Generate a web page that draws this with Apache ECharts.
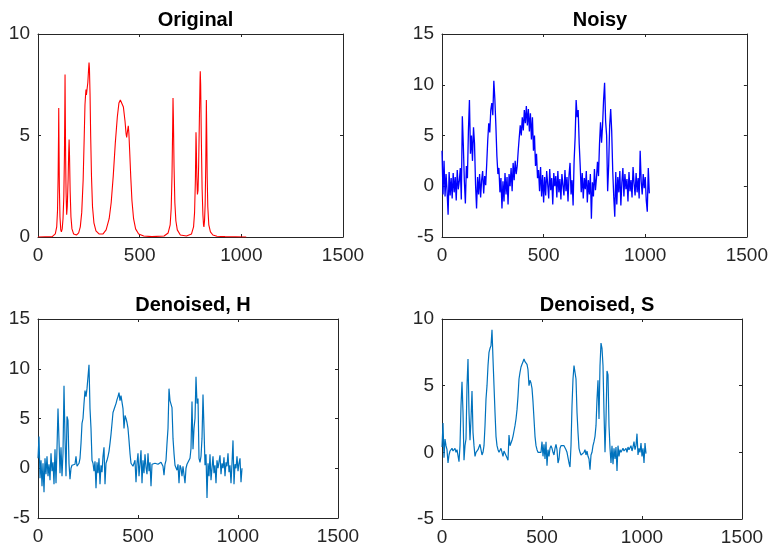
<!DOCTYPE html>
<html>
<head>
<meta charset="utf-8">
<script src="https://cdn.jsdelivr.net/npm/echarts@6/dist/echarts.min.js"></script>
<style>
html,body{margin:0;padding:0;background:#fff;}
#chart{width:771px;height:551px;}
</style>
</head>
<body>
<div id="chart"></div>
<script>
// ---- data ----
const titles = ['Original', 'Noisy', 'Denoised, H', 'Denoised, S'];
const xTickValues = [0, 500, 1000, 1500];

// Original signal: sample positions and values
const origX = [0,70,85,92,96,99,101,102,103,105,108,112,115,119,123,127,130,132,133,134,136,138,141,144,148,151,153,155,158,162,167,175,190,200,208,215,222,227,231,234,236,238,241,245,249,251,253,256,259,263,268,275,285,300,320,335,350,360,370,380,390,398,405,412,420,428,433,436,440,444,447,451,456,462,470,480,495,520,560,620,640,650,655,659,662,664,666,669,673,678,685,700,730,755,765,770,774,776,777,778,781,784,785,787,790,794,797,798,800,803,807,811,814,816,819,822,825,827,828,830,832,835,840,848,860,880,920,1024];
const origY = [0,0.02,0.15,0.5,1.3,3.0,5.0,6.35,5.0,2.5,1.0,0.35,0.25,0.4,0.9,2.0,4.0,6.5,8.0,6.5,3.8,2.2,1.1,1.5,2.8,4.2,4.8,4.0,2.3,1.0,0.4,0.15,0.1,0.2,0.5,1.2,2.8,4.8,6.5,7.0,7.27,7.0,7.0,7.6,8.3,8.6,8.3,7.0,5.0,3.0,1.5,0.7,0.3,0.15,0.15,0.35,0.9,1.7,3.0,4.6,5.9,6.6,6.75,6.7,6.4,5.7,5.1,4.9,5.2,5.48,5.1,4.2,3.0,1.8,0.9,0.4,0.15,0.05,0.02,0.05,0.2,0.6,1.4,3.0,5.2,6.85,5.8,3.5,1.7,0.8,0.35,0.1,0.05,0.15,0.5,1.2,2.8,4.3,5.16,4.8,3.0,2.1,2.04,2.3,3.5,6.0,7.8,8.16,7.5,5.0,2.4,1.1,0.6,0.5,0.8,1.6,3.5,5.5,6.75,5.0,3.0,1.5,0.6,0.25,0.1,0.04,0.02,0];

// Noisy / denoised signals, one value every SAMPLE_STEP samples (x = 0,5,10,...,1020)
const SAMPLE_STEP = 5;
const noisyY = [3.5,-0.8,2.5,-1.0,1.2,-0.5,-2.8,1.4,-0.9,0.8,-1.2,1.3,-0.6,0.9,-1.4,1.6,-0.3,0.5,1.8,-1.3,
6.9,4.0,0.5,-1.7,2.0,0.8,5.5,8.5,3.2,5.0,2.5,5.8,4.2,0.2,-2.2,0.9,-0.8,1.2,-1.1,0.6,
1.5,-0.7,1.0,0.1,2.2,4.5,6.2,5.3,7.5,8.2,7.0,10.4,8.6,6.0,3.0,1.2,1.8,-0.6,0.8,-2.2,
0.5,-1.5,1.3,-0.8,0.9,-1.8,1.2,0.0,1.8,-0.5,2.3,0.6,2.5,1.2,2.0,3.5,4.8,6.0,5.0,6.8,
5.5,7.5,6.2,7.9,6.0,7.6,5.4,7.2,4.6,6.8,3.5,5.0,2.0,3.2,0.8,1.6,-0.5,1.9,-1.0,1.1,
-1.6,0.9,-0.9,1.5,0.2,-1.2,1.7,-0.4,0.8,-1.8,1.3,0.0,1.0,-1.1,1.5,-0.6,0.7,-1.3,1.2,0.1,
-0.9,1.6,-0.5,0.9,-1.5,1.1,2.3,-0.8,0.6,-1.9,2.5,4.8,8.5,6.8,7.5,4.2,2.0,-0.6,1.3,-1.2,
0.8,-0.3,1.5,-1.6,0.6,-0.8,1.2,-3.2,0.4,-1.0,1.7,-0.4,0.8,2.4,1.0,4.2,6.3,4.3,6.0,8.5,
10.2,6.4,5.0,-0.5,2.0,6.0,7.6,5.4,1.5,-1.0,-3.0,1.4,-1.8,0.9,-0.6,1.5,-1.9,0.4,1.8,-1.0,
1.2,-0.3,0.7,-1.5,1.4,-0.5,0.6,-1.1,1.9,0.3,-0.9,1.3,-0.6,0.8,-1.2,3.5,0.5,-0.8,1.2,-0.2,
0.9,-1.4,-2.5,1.8,-0.7];
const denoisedH = [1.0,3.2,-1.0,0.8,-1.8,0.5,-2.4,1.0,-0.6,1.2,-0.8,0.4,-1.2,1.5,-0.3,0.6,-1.6,1.9,-1.5,2.0,
6.0,5.8,-0.5,2.1,-0.8,1.5,8.3,3.0,-0.8,5.2,4.8,0.5,-1.1,0.0,0.3,0.1,0.2,0.4,1.2,0.2,
0.3,0.5,1.0,2.5,4.5,5.0,6.5,7.8,7.2,8.0,8.2,10.4,6.0,4.0,0.8,0.5,-0.3,0.7,-2.0,0.6,
-0.5,1.0,-1.6,0.3,-0.4,1.2,2.1,-1.6,0.5,0.8,1.2,1.7,2.5,3.4,4.5,5.6,5.8,6.2,6.5,6.9,
7.2,7.6,6.8,7.3,7.3,6.0,4.0,5.3,5.0,4.6,4.0,2.8,1.5,0.5,0.3,0.2,0.3,0.8,-1.4,0.5,
1.5,-0.8,0.4,1.8,-1.5,0.8,-0.5,1.4,0.1,-0.6,1.5,-0.3,0.6,-1.8,0.4,0.3,0.4,0.5,0.6,0.5,
0.4,0.4,0.5,0.6,0.5,0.2,-0.7,0.4,0.8,2.5,4.0,8.0,6.8,7.0,6.1,3.0,1.5,0.3,0.5,-0.2,
0.4,-1.5,0.3,0.0,-0.8,0.2,0.4,-1.5,0.0,0.4,0.3,0.6,1.0,2.0,6.7,1.9,4.0,5.0,9.2,6.5,
7.0,1.0,0.6,1.2,3.0,7.4,4.0,0.3,1.4,-3.0,0.5,-0.8,1.4,-1.2,0.0,1.2,-0.5,0.3,-1.5,0.8,
0.0,0.2,1.3,-0.6,0.5,0.0,1.1,-0.8,0.6,0.2,1.5,-0.4,0.3,-1.5,0.5,2.8,-1.6,0.4,0.0,1.2,
-0.3,0.5,1.0,-1.4,0.0];
const denoisedS = [0.4,2.2,-0.4,1.0,0.5,0.2,-0.8,-0.2,0.1,0.0,0.3,0.1,0.2,0.3,0.0,0.2,0.3,-0.7,0.5,3.5,
5.3,3.0,-0.6,0.5,1.0,5.0,7.0,3.0,0.9,2.5,4.6,1.5,0.5,-0.3,0.0,0.1,0.2,0.4,0.6,0.2,
-0.2,0.0,0.5,2.0,4.0,5.0,6.5,7.5,7.8,8.0,9.2,7.0,5.0,3.0,1.2,0.5,0.2,0.0,0.1,0.3,
0.0,-0.3,0.1,0.2,0.0,-0.4,-0.6,1.3,0.5,0.7,0.9,1.2,1.6,2.0,2.5,3.2,4.2,5.5,6.0,6.4,
6.6,6.8,7.0,6.8,6.7,6.6,6.2,5.0,5.4,5.2,4.8,3.8,2.5,1.2,0.5,0.2,0.0,0.0,0.1,0.0,
0.8,-0.3,0.6,-0.5,0.8,-1.0,0.2,-0.3,0.3,0.5,0.3,0.0,-0.2,0.3,0.6,0.2,-0.8,-0.5,0.3,0.5,
0.6,0.6,0.5,0.4,0.2,0.0,-0.4,-0.8,-1.1,0.5,3.5,5.5,6.5,6.4,5.5,3.0,1.5,0.3,0.0,-0.2,
-0.1,-0.3,0.0,0.2,-0.2,0.1,-0.3,-0.5,-1.3,-0.2,0.0,0.5,0.8,1.2,2.0,4.0,5.4,2.5,6.5,8.2,
7.8,6.5,3.0,0.0,2.5,6.1,5.8,2.0,0.3,-0.8,0.5,-0.9,0.3,-0.5,0.4,-1.4,0.5,-0.3,0.2,0.0,
0.1,0.3,0.1,0.2,0.3,0.0,0.4,0.2,0.3,0.5,0.1,0.4,0.8,0.2,0.5,1.4,-0.2,0.3,0.0,0.7,
-0.3,0.3,-0.8,0.7,-0.1];

// ---- build chart ----
function pairs(xs, ys) { return ys.map((v, i) => [xs[i], v]); }
function stepPairs(ys) { return ys.map((v, i) => [i * SAMPLE_STEP, v]); }

const panels = [
  { title: titles[0], grid: {left: 38, top: 34, width: 305, height: 203}, ymin: 0, ymax: 10, color: '#FF0000', lw: 1.1, data: pairs(origX, origY), titleTop: 5 },
  { title: titles[1], grid: {left: 442, top: 34, width: 306, height: 203}, ymin: -5, ymax: 15, color: '#0000FF', lw: 1.3, data: stepPairs(noisyY), titleTop: 5 },
  { title: titles[2], grid: {left: 38, top: 319, width: 300, height: 199}, ymin: -5, ymax: 15, color: '#0072BD', lw: 1.2, data: stepPairs(denoisedH), titleTop: 290 },
  { title: titles[3], grid: {left: 442, top: 319, width: 300, height: 200}, ymin: -5, ymax: 10, color: '#0072BD', lw: 1.2, data: stepPairs(denoisedS), titleTop: 290 }
];

const axisColor = '#262626';
const labelStyle = { fontFamily: 'Liberation Sans, Arial, sans-serif', fontSize: 19, color: '#262626' };
const plain = v => String(v);

const option = {
  animation: false,
  backgroundColor: '#ffffff',
  title: [], grid: [], xAxis: [], yAxis: [], series: []
};

panels.forEach((p, i) => {
  option.grid.push(Object.assign({ containLabel: false }, p.grid));
  option.title.push({
    text: p.title,
    left: p.grid.left + p.grid.width / 2,
    top: p.titleTop,
    textAlign: 'center',
    textStyle: { fontFamily: 'Liberation Sans, Arial, sans-serif', fontSize: 20, fontWeight: 'bold', color: '#000' }
  });
  const xCommon = {
    type: 'value', gridIndex: i, min: 0, max: 1500, interval: 500,
    axisLine: { show: true, onZero: false, lineStyle: { color: axisColor, width: 1 } },
    axisTick: { show: true, inside: true, length: 3, lineStyle: { color: axisColor } },
    splitLine: { show: false }
  };
  option.xAxis.push(Object.assign({}, xCommon, {
    position: 'bottom',
    axisLabel: Object.assign({ show: true, margin: 9, showMinLabel: true, showMaxLabel: true, formatter: plain }, labelStyle)
  }));
  option.xAxis.push(Object.assign({}, xCommon, { position: 'top', axisLabel: { show: false } }));
  const yCommon = {
    type: 'value', gridIndex: i, min: p.ymin, max: p.ymax, interval: 5,
    axisLine: { show: true, onZero: false, lineStyle: { color: axisColor, width: 1 } },
    axisTick: { show: true, inside: true, length: 3, lineStyle: { color: axisColor } },
    splitLine: { show: false }
  };
  option.yAxis.push(Object.assign({}, yCommon, {
    position: 'left',
    axisLabel: Object.assign({ show: true, margin: 8, showMinLabel: true, showMaxLabel: true, formatter: plain }, labelStyle)
  }));
  option.yAxis.push(Object.assign({}, yCommon, { position: 'right', axisLabel: { show: false } }));
  option.series.push({
    type: 'line',
    xAxisIndex: i * 2, yAxisIndex: i * 2,
    data: p.data,
    showSymbol: false,
    symbol: 'none',
    lineStyle: { color: p.color, width: p.lw },
    clip: true
  });
});

const chart = echarts.init(document.getElementById('chart'), null, { renderer: 'canvas' });
chart.setOption(option);
</script>
</body>
</html>
